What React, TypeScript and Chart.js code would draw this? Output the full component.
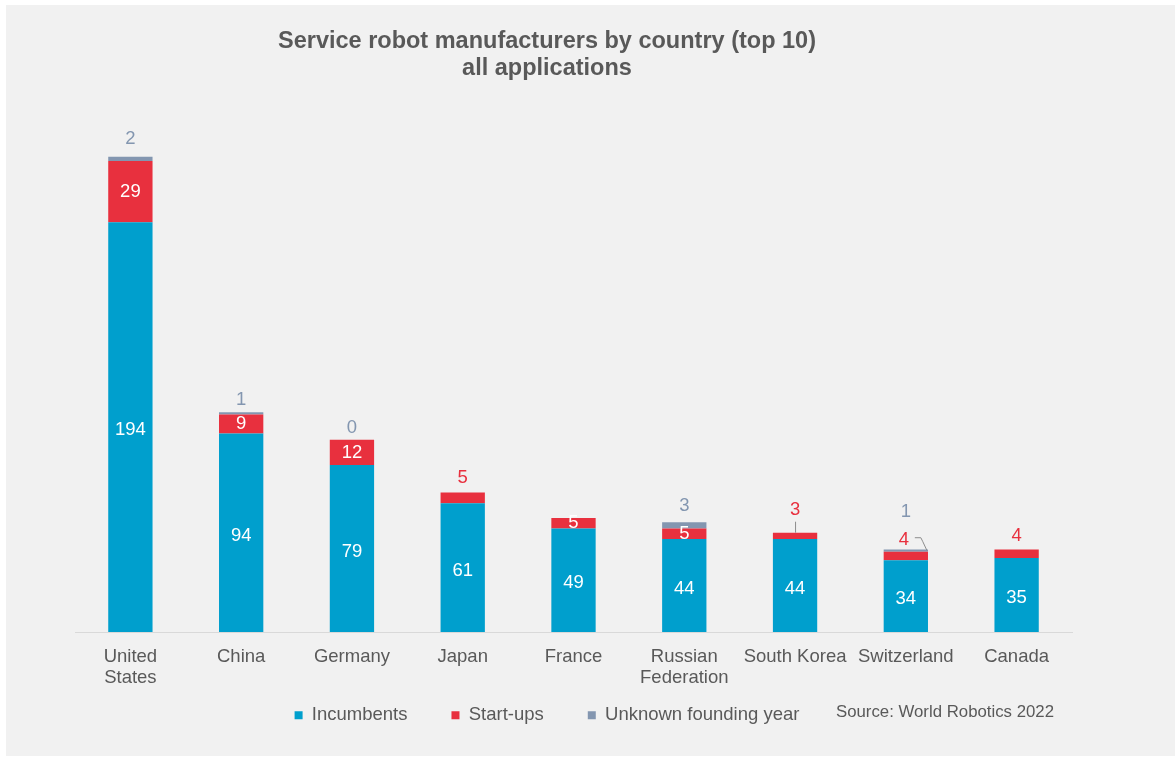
import React, { useEffect, useRef } from "react";
import { Chart, registerables } from "chart.js";

Chart.register(...registerables);

const categories: (string | string[])[] = [
  ["United", "States"],
  "China",
  "Germany",
  "Japan",
  "France",
  ["Russian", "Federation"],
  "South Korea",
  "Switzerland",
  "Canada",
];
const incumbents = [194, 94, 79, 61, 49, 44, 44, 34, 35];
const startups = [29, 9, 12, 5, 5, 5, 3, 4, 4];
const unknownYear: (number | null)[] = [2, 1, 0, null, null, 3, null, 1, null];

const titleLines = ["Service robot manufacturers by country (top 10)", "all applications"];
const seriesNames = ["Incumbents", "Start-ups", "Unknown founding year"];
const sourceText = "Source: World Robotics 2022";

const BLUE = "#009fcd";
const RED = "#e8303e";
const GREYBLUE = "#8396b0";
const TEXT = "#595959";
const FONT = '"Liberation Sans", Arial, sans-serif';

// label placement (style): start-up labels inside bar or above, unknown label offsets
const startInside = [true, true, true, false, true, true, false, false, false];
const startAboveDy = [0, 0, 0, -15, 0, 0, -23, -12, -14];
const unknownDy = [-18, -12, -12, 0, 0, -16, 0, -38, 0];

const labelPlugin = {
  id: "barLabels",
  afterLayout(chart: any) {
    // let the two-line category labels draw below the (thin) x-axis box
    const x = chart.scales.x;
    if (x) x.bottom = x.top + 60;
  },
  afterDatasetsDraw(chart: any) {
    const ctx = chart.ctx as CanvasRenderingContext2D;
    const m0 = chart.getDatasetMeta(0);
    const m1 = chart.getDatasetMeta(1);
    const m2 = chart.getDatasetMeta(2);
    ctx.save();
    ctx.font = `18.5px ${FONT}`;
    ctx.textAlign = "center";
    ctx.textBaseline = "middle";
    for (let i = 0; i < incumbents.length; i++) {
      const b0 = m0.data[i].getProps(["x", "y", "base", "width"], true);
      ctx.fillStyle = "#ffffff";
      ctx.fillText(String(incumbents[i]), b0.x, (b0.y + b0.base) / 2 + 3);

      const b1 = m1.data[i].getProps(["x", "y", "base", "width"], true);
      if (startInside[i]) {
        ctx.fillStyle = "#ffffff";
        ctx.fillText(String(startups[i]), b1.x, (b1.y + b1.base) / 2);
      } else {
        ctx.fillStyle = RED;
        const ly = b1.y + startAboveDy[i];
        let stackTop = b1.y;
        if (unknownYear[i] !== null) {
          const b2 = m2.data[i].getProps(["y"], true);
          stackTop = b2.y;
        }
        const lx = b1.x - (i === 7 ? 2 : 0);
        ctx.fillText(String(startups[i]), lx, ly);
        // leader lines
        ctx.strokeStyle = "#8c8c8c";
        ctx.lineWidth = 1;
        if (i === 6) {
          ctx.beginPath();
          ctx.moveTo(b1.x + 0.5, ly + 12);
          ctx.lineTo(b1.x + 0.5, b1.y);
          ctx.stroke();
        } else if (i === 7) {
          ctx.beginPath();
          ctx.moveTo(lx + 11, ly - 2);
          ctx.lineTo(lx + 17, ly - 2);
          ctx.lineTo(lx + 19, ly + 2);
          ctx.lineTo(b1.x + b1.width / 2 - 1, stackTop + 1);
          ctx.stroke();
        }
      }

      const u = unknownYear[i];
      if (u !== null) {
        const b2 = m2.data[i].getProps(["x", "y"], true);
        ctx.fillStyle = GREYBLUE;
        ctx.fillText(String(u), b2.x, b2.y + unknownDy[i]);
      }
    }
    // source note
    ctx.font = `16.8px ${FONT}`;
    ctx.textAlign = "left";
    ctx.fillStyle = TEXT;
    ctx.fillText(sourceText, 830, 707);
    ctx.restore();
  },
};

export default function App() {
  const ref = useRef<HTMLCanvasElement | null>(null);
  useEffect(() => {
    if (!ref.current) return;
    const chart = new Chart(ref.current, {
      type: "bar",
      data: {
        labels: categories as any,
        datasets: [
          { label: seriesNames[0], data: incumbents, backgroundColor: BLUE },
          { label: seriesNames[1], data: startups, backgroundColor: RED },
          { label: seriesNames[2], data: unknownYear as any, backgroundColor: GREYBLUE },
        ],
      },
      options: {
        responsive: false,
        animation: false,
        layout: { padding: { left: 16, right: 103, top: 0, bottom: 21.5 } },
        datasets: { bar: { categoryPercentage: 0.8, barPercentage: 0.5 } },
        scales: {
          x: {
            stacked: true,
            grid: { display: false, drawTicks: false },
            border: { display: true, color: "#d9d9d9", width: 1 },
            ticks: {
              color: TEXT,
              font: { family: FONT, size: 18.5, lineHeight: 1.135 },
              padding: 14,
              maxRotation: 0,
              autoSkip: false,
            },
            afterFit: (s: any) => {
              s.height = 30;
            },
          },
          y: {
            stacked: true,
            min: 0,
            max: 240,
            grid: { display: false },
            border: { display: false },
            ticks: { display: false },
            afterFit: (s: any) => {
              s.width = 53;
            },
          },
        },
        plugins: {
          title: {
            display: true,
            text: titleLines,
            color: TEXT,
            font: { family: FONT, size: 23.5, weight: "bold", lineHeight: 27 / 23.5 },
            padding: { top: 23, bottom: 43 },
          },
          legend: {
            position: "bottom",
            labels: {
              color: TEXT,
              font: { family: FONT, size: 18.5 },
              boxWidth: 8,
              boxHeight: 8,
              padding: 44,
            },
          },
          tooltip: { enabled: false },
        },
      },
      plugins: [labelPlugin],
    });
    return () => chart.destroy();
  }, []);
  return (
    <div
      style={{
        position: "absolute",
        left: 6,
        top: 5,
        width: 1169,
        height: 751,
        background: "#f1f1f1",
      }}
    >
      <canvas ref={ref} width={1169} height={751} style={{ display: "block" }} />
    </div>
  );
}
